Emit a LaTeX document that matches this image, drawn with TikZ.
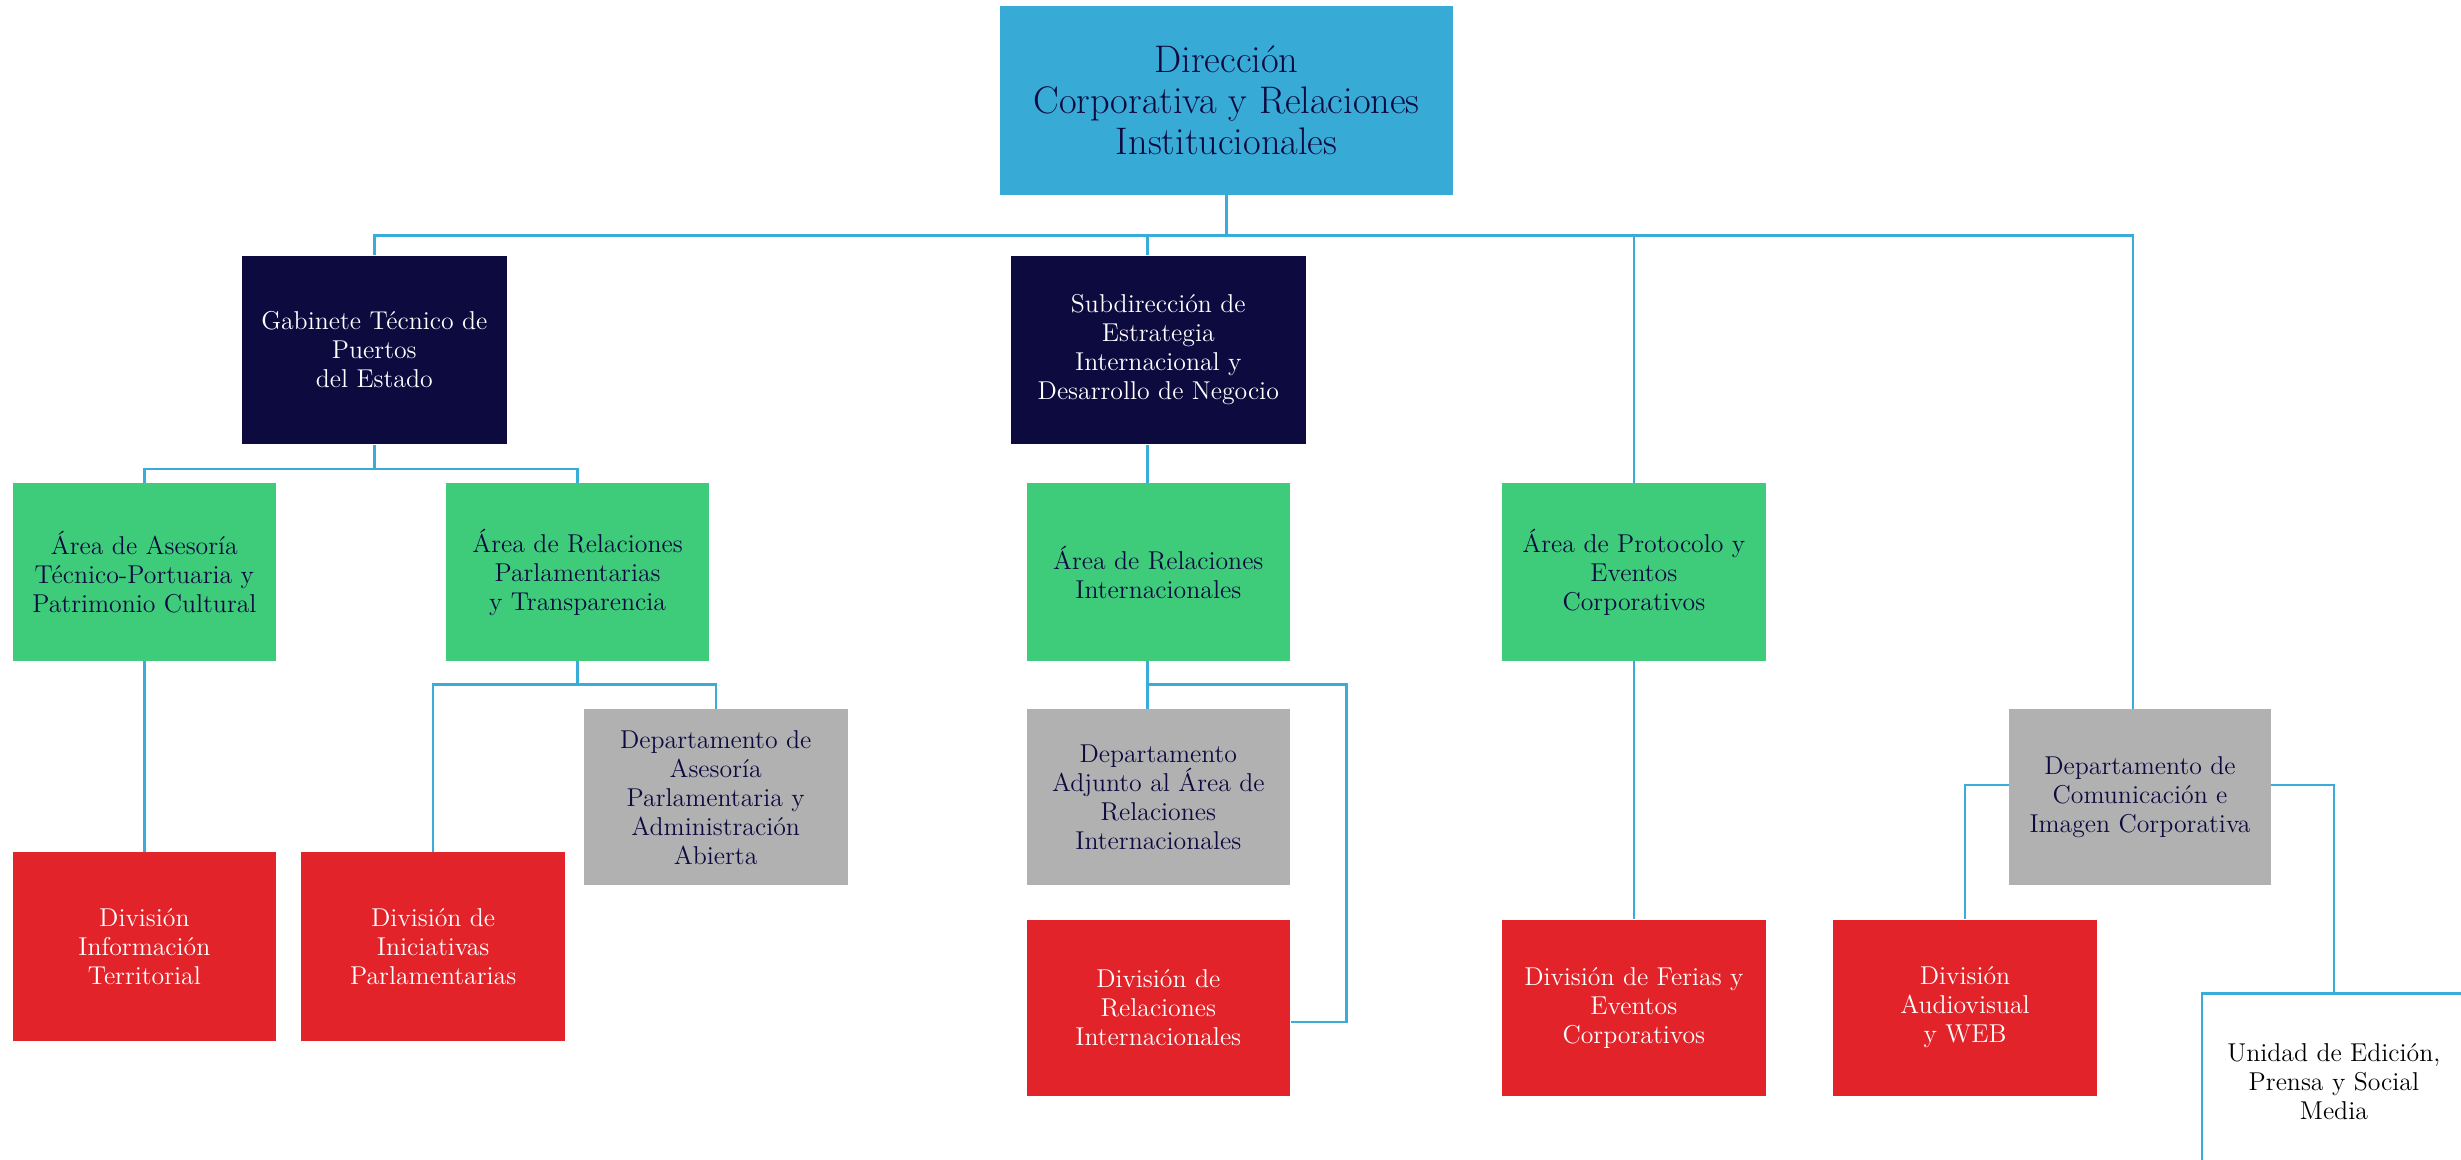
\documentclass[tikz,border=0pt]{standalone}
\usepackage{fontspec}
\definecolor{dirblue}{RGB}{55,170,214}
\definecolor{navy}{RGB}{13,10,64}
\definecolor{areagreen}{RGB}{62,204,123}
\definecolor{deptgray}{RGB}{177,177,177}
\definecolor{divred}{RGB}{227,35,42}
\definecolor{linkblue}{RGB}{58,172,220}
\tikzset{
	box/.style={rectangle,inner sep=0pt,align=center,minimum width=131.8pt,minimum height=87.9pt,font=\fontsize{12.9}{14.5}\selectfont,text=navy},
	dirbox/.style={box,fill=dirblue,minimum width=226.8pt,minimum height=94.2pt,font=\fontsize{19.2}{20.4}\selectfont},
	subbox/.style={box,fill=navy,text=white,minimum height=94.2pt},
	areabox/.style={box,fill=areagreen,minimum height=88.7pt},
	deptbox/.style={box,fill=deptgray},
	divbox/.style={box,fill=divred,text=white},
	unitbox/.style={box,fill=white,text=black,draw=linkblue,line width=1.2pt},
	link/.style={draw=linkblue,line width=1.2pt}
}
\begin{document}
\begin{tikzpicture}[x=0.7848pt,y=-0.7848pt]
		\useasboundingbox (0,0) rectangle (1568,739);
		\clip (0,0) rectangle (1568,739);
		
		\node[dirbox] (dir) at (781.5,64) {Dirección\\Corporativa y Relaciones\\Institucionales};
		
		\node[subbox,minimum width=132.6pt] (gab) at (238.5,223) {Gabinete Técnico de\\Puertos\\del Estado};
		\node[subbox,minimum width=147.5pt] (sub) at (738,223) {Subdirección de\\Estrategia\\Internacional y\\Desarrollo de Negocio};
		
		\node[areabox] (ata) at (92,364.5) {Área de Asesoría\\Técnico-Portuaria y\\Patrimonio Cultural};
		\node[areabox] (arp) at (368,364.5) {Área de Relaciones\\Parlamentarias\\y Transparencia};
		\node[areabox] (ari) at (738,364.5) {Área de Relaciones\\Internacionales};
		\node[areabox] (apr) at (1041,364.5) {Área de Protocolo y\\Eventos\\Corporativos};
		
		\node[deptbox] (dap) at (456,508) {Departamento de\\Asesoría\\Parlamentaria y\\Administración\\Abierta};
		\node[deptbox] (dar) at (738,508) {Departamento\\Adjunto al Área de\\Relaciones\\Internacionales};
		\node[deptbox,minimum width=131pt] (dci) at (1363.5,508) {Departamento de\\Comunicación e\\Imagen Corporativa};
		
		\node[divbox,minimum height=94.2pt] (dit) at (92,603) {División\\Información\\Territorial};
		\node[divbox,minimum height=94.2pt] (dip) at (276,603) {División de\\Iniciativas\\Parlamentarias};
		\node[divbox] (dri) at (738,642) {División de\\Relaciones\\Internacionales};
		\node[divbox] (dfe) at (1041,642) {División de Ferias y\\Eventos\\Corporativos};
		\node[divbox] (dav) at (1252,642) {División\\Audiovisual\\y WEB};
		
		\node[unitbox] (ued) at (1487,689) {Unidad de Edición,\\Prensa y Social\\Media};
		
		\coordinate (bar) at (0,150);
		\coordinate (subdrop) at (731,0);
		\coordinate (dcidrop) at (1359,0);
		\coordinate (gabbar) at (0,299);
		\coordinate (arpbar) at (0,436);
		\coordinate (riturn) at (858,436);
		\coordinate (riend) at (858,651);
		\coordinate (dcimid) at (0,500);
		
		\draw[link] (dir.south) -- (dir.south |- bar);
		\draw[link] (gab.north) |- (dcidrop |- bar) -- (dcidrop |- dci.north);
		\draw[link] (subdrop |- bar) -- (subdrop |- sub.north);
		\draw[link] (apr.north |- bar) -- (apr.north);
		
		\draw[link] (gab.south) -- (gab.south |- gabbar);
		\draw[link] (ata.north) |- (gab.south |- gabbar) -| (arp.north);
		\draw[link] (ata.south) -- (dit.north);
		
		\draw[link] (arp.south) -- (arp.south |- arpbar);
		\draw[link] (dip.north) |- (arp.south |- arpbar) -| (dap.north);
		
		\draw[link] (subdrop |- sub.south) -- (subdrop |- ari.north);
		\draw[link] (subdrop |- ari.south) -- (subdrop |- dar.north);
		\draw[link] (subdrop |- arpbar) -- (riturn) -- (riend) -- (riend -| dri.east);
		
		\draw[link] (apr.south) -- (dfe.north);
		
		\draw[link] (dcimid -| dci.west) -| (dav.north);
		\draw[link] (dcimid -| dci.east) -| (ued.north);
\end{tikzpicture}
\end{document}
